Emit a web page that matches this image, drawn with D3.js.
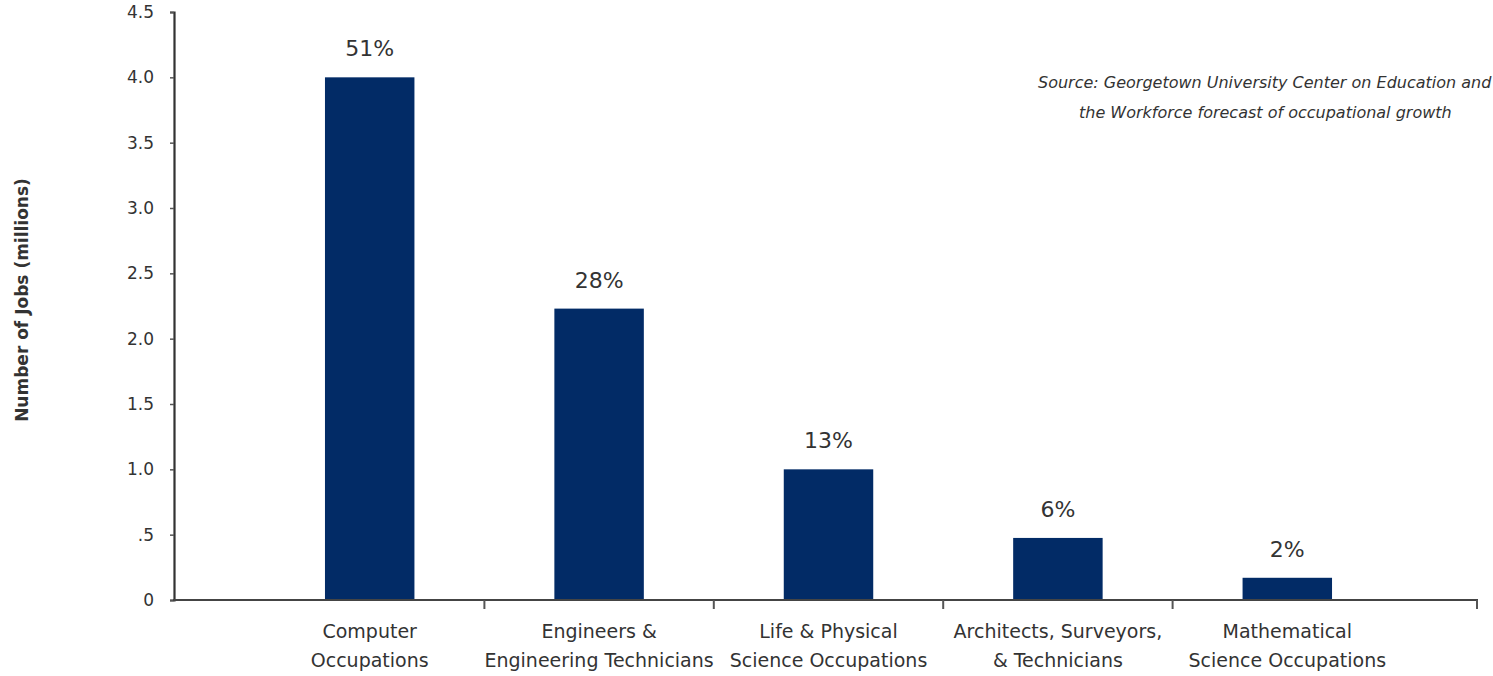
<!DOCTYPE html>
<html>
<head>
<meta charset="utf-8">
<script src="https://cdn.jsdelivr.net/npm/d3@7"></script>
<style>
  html, body { margin: 0; padding: 0; background: #fff; }
  svg { display: block; }
  text { font-family: "DejaVu Sans", "Open Sans", sans-serif; fill: #333; }
</style>
</head>
<body>
<svg id="chart" width="1493" height="676"></svg>
<script>
const categories = [
  ["Computer", "Occupations"],
  ["Engineers &", "Engineering Technicians"],
  ["Life & Physical", "Science Occupations"],
  ["Architects, Surveyors,", "& Technicians"],
  ["Mathematical", "Science Occupations"]
];
const values = [4.0, 2.23, 1.0, 0.475, 0.17];
const percentLabels = ["51%", "28%", "13%", "6%", "2%"];
const yTicks = [0, 0.5, 1.0, 1.5, 2.0, 2.5, 3.0, 3.5, 4.0, 4.5];
const yTickLabels = ["0", ".5", "1.0", "1.5", "2.0", "2.5", "3.0", "3.5", "4.0", "4.5"];
const yTitle = "Number of Jobs (millions)";
const sourceLines = [
  "Source: Georgetown University Center on Education and",
  "the Workforce forecast of occupational growth"
];

const svg = d3.select("#chart");
const axisLeftX = 174, axisRightX = 1478, baseY = 600;

const y = d3.scaleLinear().domain([0, 4.5]).range([baseY, 12]);
const keys = categories.map((c, i) => i);
const x = d3.scaleBand().domain(keys).range([255, 1402]).paddingInner(0.61).paddingOuter(0.305);

// bars
svg.selectAll("rect.bar").data(values).join("rect")
  .attr("class", "bar")
  .attr("x", (d, i) => x(i))
  .attr("width", x.bandwidth())
  .attr("y", d => y(d))
  .attr("height", d => baseY - y(d))
  .attr("fill", "#022b66");

// percent labels
svg.selectAll("text.pct").data(values).join("text")
  .attr("class", "pct")
  .attr("x", (d, i) => x(i) + x.bandwidth() / 2)
  .attr("y", d => y(d) - 21)
  .attr("text-anchor", "middle")
  .attr("font-size", 22)
  .text((d, i) => percentLabels[i]);

// y axis
const yAxis = d3.axisLeft(y).tickValues(yTicks).tickSize(4).tickPadding(16)
  .tickFormat((d, i) => yTickLabels[i]);
const gy = svg.append("g").attr("transform", `translate(${axisLeftX},0)`).call(yAxis);
gy.select(".domain").attr("stroke", "#333").attr("stroke-width", 2.2);
gy.selectAll(".tick line").attr("stroke", "#555").attr("stroke-width", 1.5);
gy.selectAll(".tick text").attr("font-size", 17).attr("font-family", "'DejaVu Sans', sans-serif").attr("fill", "#333");

// x axis
svg.append("line").attr("x1", axisLeftX - 1).attr("x2", axisRightX).attr("y1", baseY).attr("y2", baseY)
  .attr("stroke", "#444").attr("stroke-width", 2.2);
const step = x.step();
const boundaries = keys.slice(0, keys.length - 1).map(i => x(i) + x.bandwidth() + step * x.paddingInner() / 2);
boundaries.push(axisRightX - 1);
svg.selectAll("line.xtick").data(boundaries).join("line")
  .attr("class", "xtick")
  .attr("x1", d => d).attr("x2", d => d)
  .attr("y1", baseY).attr("y2", baseY + 9)
  .attr("stroke", "#555").attr("stroke-width", 2);

// category labels
const cl = svg.selectAll("text.cat").data(categories).join("text")
  .attr("class", "cat")
  .attr("text-anchor", "middle")
  .attr("font-size", 19);
cl.each(function(d, i) {
  const t = d3.select(this);
  d.forEach((line, j) => {
    t.append("tspan").attr("x", x(i) + x.bandwidth() / 2).attr("y", 638 + j * 29).text(line);
  });
});

// y title
svg.append("text")
  .attr("transform", "translate(28,300) rotate(-90)")
  .attr("text-anchor", "middle")
  .attr("font-size", 17)
  .attr("font-weight", "bold")
  .text(yTitle);

// source
svg.selectAll("text.src").data(sourceLines).join("text")
  .attr("class", "src")
  .attr("x", (d, i) => i === 0 ? 1038 : 1079)
  .attr("y", (d, i) => 88 + i * 30)
  .attr("font-size", 16)
  .attr("font-style", "italic")
  .text(d => d);
</script>
</body>
</html>
